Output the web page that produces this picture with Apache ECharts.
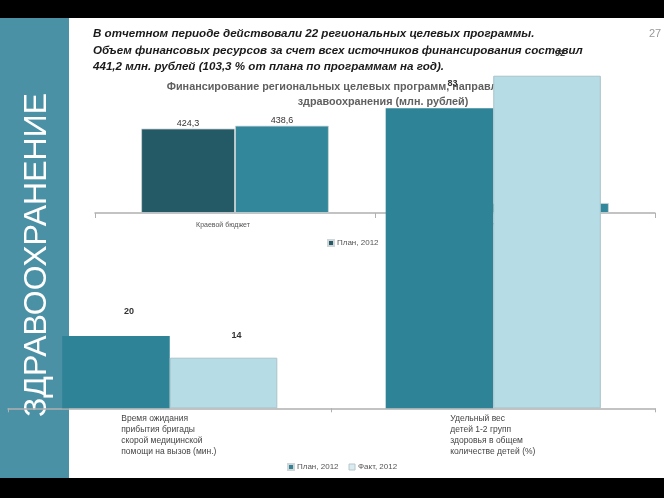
<!DOCTYPE html>
<html><head><meta charset="utf-8">
<script src="https://cdn.jsdelivr.net/npm/echarts@6/dist/echarts.min.js"></script>
<style>html,body{margin:0;padding:0;background:#fff}#c{width:664px;height:498px}</style>
</head><body><div id="c"></div>
<script>
// ---- data ----
const seriesNames = ['План, 2012', 'Факт, 2012'];
const topTitle = 'Финансирование региональных целевых программ, направленных на развитие\nздравоохранения (млн. рублей)';
const topCategories = ['Краевой бюджет', 'Федеральный бюджет'];
const topPlan = [424.3, 2.8];
const topFact = [438.6, 2.6];
const bottomCategories = [
  'Время ожидания\nприбытия бригады\nскорой медицинской\nпомощи на вызов (мин.)',
  'Удельный вес\nдетей 1-2 групп\nздоровья в общем\nколичестве детей (%)'
];
const bottomPlan = [20, 83];
const bottomFact = [14, 92];
const headerLines = [
  'В отчетном периоде действовали 22 региональных целевых программы.',
  'Объем финансовых ресурсов за счет всех источников финансирования составил',
  '441,2 млн. рублей (103,3 % от плана по программам на год).'
];
const sideTitle = 'ЗДРАВООХРАНЕНИЕ';
const pageNumber = '27';

// ---- chart ----
const chart = echarts.init(document.getElementById('c'), null, {renderer: 'canvas'});
const FONT = '"Liberation Sans", Arial, sans-serif';
const comma = p => String(p.value).replace('.', ',');

const graphics = [
  {type: 'rect', z: -10, shape: {x: 0, y: 0, width: 664, height: 18}, style: {fill: '#000'}},
  {type: 'rect', z: -10, shape: {x: 0, y: 478, width: 664, height: 20}, style: {fill: '#000'}},
  {type: 'rect', z: -10, shape: {x: 0, y: 18, width: 69, height: 460}, style: {fill: '#4b91a6'}},
  {type: 'text', z: -9, x: 37, y: 255, rotation: Math.PI / 2,
    style: {text: sideTitle, fill: '#fff', font: '32px ' + FONT, textAlign: 'center', textVerticalAlign: 'middle'}},
  {type: 'text', z: 1, x: 655, y: 34,
    style: {text: pageNumber, fill: '#999', font: '11px ' + FONT, textAlign: 'center', textVerticalAlign: 'middle'}}
];
const headerY = [34, 51, 67];
headerLines.forEach((t, i) => graphics.push({
  type: 'text', z: 1, x: 93, y: headerY[i],
  style: {text: t, fill: '#1a1a1a', font: 'italic bold 11.6px ' + FONT, textAlign: 'left', textVerticalAlign: 'middle'}
}));

const option = {
  animation: false,
  backgroundColor: '#fff',
  graphic: graphics,
  title: {
    text: topTitle, left: 378, top: 75, textAlign: 'center', z: 1,
    textStyle: {fontFamily: FONT, fontSize: 10.8, fontWeight: 'bold', color: '#606060', lineHeight: 15}
  },
  legend: [
    {
      z: 1, left: 322, top: 234, itemWidth: 6, itemHeight: 6, itemGap: 10, icon: 'rect',
      textStyle: {fontFamily: FONT, fontSize: 8, color: '#555', padding: [0, 0, 0, -2]},
      data: [
        {name: seriesNames[0], itemStyle: {color: '#235a66'}},
        {name: seriesNames[1], itemStyle: {color: '#33879b'}}
      ]
    },
    {
      left: 282, top: 458, itemWidth: 6, itemHeight: 6, itemGap: 10, icon: 'rect',
      textStyle: {fontFamily: FONT, fontSize: 8, color: '#555', padding: [0, 0, 0, -2]},
      data: [
        {name: seriesNames[0], itemStyle: {color: '#2f8396'}},
        {name: seriesNames[1], itemStyle: {color: '#d9ecf1', borderColor: '#b8c8cc', borderWidth: 1}}
      ]
    }
  ],
  grid: [
    {left: 95, right: 9, top: 113.5, bottom: 285},
    {left: 8, right: 9, top: 46.8, bottom: 89.7}
  ],
  xAxis: [
    {
      gridIndex: 0, type: 'category', data: topCategories,
      axisLine: {lineStyle: {color: '#b0b0b0', width: 1.5}},
      axisTick: {show: true, length: 5, lineStyle: {color: '#b0b0b0'}},
      axisLabel: {fontFamily: FONT, fontSize: 7, color: '#555', margin: 9, padding: [0, 24, 0, 0]}
    },
    {
      gridIndex: 1, type: 'category', data: bottomCategories,
      axisLine: {lineStyle: {color: '#b0b0b0', width: 1.5}},
      axisTick: {show: true, length: 4, lineStyle: {color: '#b0b0b0'}},
      axisLabel: {
        margin: 5, interval: 0,
        formatter: (v, i) => v.split('\n').map(l => '{' + (i === 0 ? 'a' : 'b') + '|' + l + '}').join('\n'),
        rich: {
          a: {width: 97, align: 'left', fontFamily: FONT, fontSize: 8.5, color: '#444', lineHeight: 11},
          b: {width: 86, align: 'left', fontFamily: FONT, fontSize: 8.5, color: '#444', lineHeight: 11}
        }
      }
    }
  ],
  yAxis: [
    {gridIndex: 0, type: 'value', min: 0, max: 500, show: false},
    {gridIndex: 1, type: 'value', min: 0, max: 100, show: false}
  ],
  series: [
    {
      name: seriesNames[0], type: 'bar', xAxisIndex: 0, yAxisIndex: 0, z: 2,
      data: topPlan, barGap: '0%', barCategoryGap: '33%', barMinHeight: 10,
      itemStyle: {color: '#235a66', borderColor: '#d0d6d8', borderWidth: 0.8},
      label: {show: true, position: 'top', distance: 1, formatter: comma,
        fontFamily: FONT, fontSize: 9, color: '#333'}
    },
    {
      name: seriesNames[1], type: 'bar', xAxisIndex: 0, yAxisIndex: 0, z: 2,
      data: topFact, barGap: '0%', barCategoryGap: '33%', barMinHeight: 10,
      itemStyle: {color: '#33879b', borderColor: '#d0d6d8', borderWidth: 0.8},
      label: {show: true, position: 'top', distance: 1, formatter: comma,
        fontFamily: FONT, fontSize: 9, color: '#333'}
    },
    {
      name: seriesNames[0], type: 'bar', xAxisIndex: 1, yAxisIndex: 1, z: 5,
      data: bottomPlan, barGap: '0%', barCategoryGap: '33.5%',
      itemStyle: {color: '#2f8396'},
      label: {show: true, position: 'top', distance: 20, offset: [13, 0],
        fontFamily: FONT, fontSize: 9, fontWeight: 'bold', color: '#333'}
    },
    {
      name: seriesNames[1], type: 'bar', xAxisIndex: 1, yAxisIndex: 1, z: 5,
      data: bottomFact, barGap: '0%', barCategoryGap: '33.5%',
      itemStyle: {color: '#b6dce6', borderColor: '#a9c2ca', borderWidth: 1},
      label: {show: true, position: 'top', distance: 18, offset: [13, 0],
        fontFamily: FONT, fontSize: 9, fontWeight: 'bold', color: '#333'}
    }
  ]
};
chart.setOption(option);
</script>
</body></html>
